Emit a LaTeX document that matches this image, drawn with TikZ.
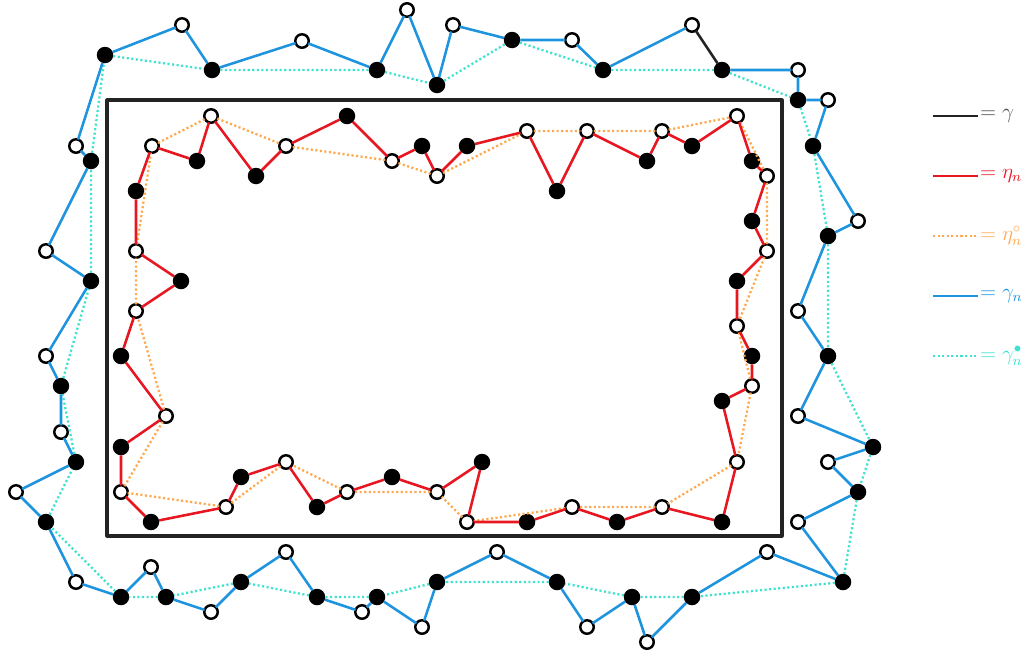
\documentclass[tikz,border=0pt]{standalone}
\usepackage{amsmath}
\definecolor{curveblack}{RGB}{35,35,35}
\definecolor{etared}{RGB}{232,22,32}
\definecolor{etaorange}{RGB}{255,168,78}
\definecolor{gammablue}{RGB}{30,148,222}
\definecolor{gammateal}{RGB}{62,226,206}

\tikzset{
    wdot/.style={circle,draw=black,fill=white,line width=1.4pt,minimum size=0.27cm,inner sep=0pt,outer sep=0pt},
    bdot/.style={circle,fill=black,minimum size=0.33cm,inner sep=0pt,outer sep=0pt},
    gammaline/.style={gammablue,line width=1.45pt},
    etaline/.style={etared,line width=1.45pt},
    gammadots/.style={gammateal,line width=1.3pt,dash pattern=on 1.2pt off 1.4pt},
    etadots/.style={etaorange,line width=1.3pt,dash pattern=on 1.2pt off 1.4pt},
    keytext/.style={anchor=west,inner sep=1pt,font=\large}
}

\begin{document}
\begin{tikzpicture}[x=0.02cm,y=-0.02cm,line cap=butt,line join=round]
        \useasboundingbox (0,0) rectangle (1034,656);

        \draw[curveblack,line width=1.8pt] (107,100) rectangle (782,536);

        % outer walk
        \node[bdot] (o1) at (105,55) {};
        \node[wdot] (o2) at (182,25) {};
        \node[bdot] (o3) at (212,70) {};
        \node[wdot] (o4) at (302,41) {};
        \node[bdot] (o5) at (377,70) {};
        \node[wdot] (o6) at (407,10) {};
        \node[bdot] (o7) at (437,85) {};
        \node[wdot] (o8) at (453,25) {};
        \node[bdot] (o9) at (512,40) {};
        \node[wdot] (o10) at (572,40) {};
        \node[bdot] (o11) at (603,70) {};
        \node[wdot] (o12) at (692,25) {};
        \node[bdot] (o13) at (722,70) {};
        \node[wdot] (o14) at (798,70) {};
        \node[bdot] (o15) at (798,100) {};
        \node[wdot] (o16) at (828,100) {};
        \node[bdot] (o17) at (813,146) {};
        \node[wdot] (o18) at (858,221) {};
        \node[bdot] (o19) at (828,236) {};
        \node[wdot] (o20) at (798,311) {};
        \node[bdot] (o21) at (828,356) {};
        \node[wdot] (o22) at (798,416) {};
        \node[bdot] (o23) at (873,447) {};
        \node[wdot] (o24) at (828,462) {};
        \node[bdot] (o25) at (858,492) {};
        \node[wdot] (o26) at (798,522) {};
        \node[bdot] (o27) at (843,582) {};
        \node[wdot] (o28) at (767,552) {};
        \node[bdot] (o29) at (692,597) {};
        \node[wdot] (o30) at (647,642) {};
        \node[bdot] (o31) at (632,597) {};
        \node[wdot] (o32) at (587,627) {};
        \node[bdot] (o33) at (557,582) {};
        \node[wdot] (o34) at (497,552) {};
        \node[bdot] (o35) at (437,582) {};
        \node[wdot] (o36) at (422,627) {};
        \node[bdot] (o37) at (377,597) {};
        \node[wdot] (o38) at (362,612) {};
        \node[bdot] (o39) at (317,597) {};
        \node[wdot] (o40) at (286,552) {};
        \node[bdot] (o41) at (241,582) {};
        \node[wdot] (o42) at (211,612) {};
        \node[bdot] (o43) at (166,597) {};
        \node[wdot] (o44) at (151,567) {};
        \node[bdot] (o45) at (121,597) {};
        \node[wdot] (o46) at (76,582) {};
        \node[bdot] (o47) at (46,522) {};
        \node[wdot] (o48) at (16,492) {};
        \node[bdot] (o49) at (76,462) {};
        \node[wdot] (o50) at (61,432) {};
        \node[bdot] (o51) at (61,386) {};
        \node[wdot] (o52) at (46,356) {};
        \node[bdot] (o53) at (91,281) {};
        \node[wdot] (o54) at (46,251) {};
        \node[bdot] (o55) at (91,161) {};
        \node[wdot] (o56) at (76,146) {};

        % inner walk
        \node[wdot] (i1) at (152,146) {};
        \node[bdot] (i2) at (197,161) {};
        \node[wdot] (i3) at (211,116) {};
        \node[bdot] (i4) at (256,176) {};
        \node[wdot] (i5) at (286,146) {};
        \node[bdot] (i6) at (347,116) {};
        \node[wdot] (i7) at (392,161) {};
        \node[bdot] (i8) at (422,146) {};
        \node[wdot] (i9) at (437,176) {};
        \node[bdot] (i10) at (467,146) {};
        \node[wdot] (i11) at (527,131) {};
        \node[bdot] (i12) at (557,191) {};
        \node[wdot] (i13) at (587,131) {};
        \node[bdot] (i14) at (647,161) {};
        \node[wdot] (i15) at (662,131) {};
        \node[bdot] (i16) at (692,146) {};
        \node[wdot] (i17) at (737,116) {};
        \node[bdot] (i18) at (752,161) {};
        \node[wdot] (i19) at (767,176) {};
        \node[bdot] (i20) at (752,221) {};
        \node[wdot] (i21) at (767,251) {};
        \node[bdot] (i22) at (737,281) {};
        \node[wdot] (i23) at (737,326) {};
        \node[bdot] (i24) at (752,356) {};
        \node[wdot] (i25) at (752,386) {};
        \node[bdot] (i26) at (722,401) {};
        \node[wdot] (i27) at (737,462) {};
        \node[bdot] (i28) at (722,522) {};
        \node[wdot] (i29) at (662,507) {};
        \node[bdot] (i30) at (617,522) {};
        \node[wdot] (i31) at (572,507) {};
        \node[bdot] (i32) at (527,522) {};
        \node[wdot] (i33) at (467,522) {};
        \node[bdot] (i34) at (482,462) {};
        \node[wdot] (i35) at (437,492) {};
        \node[bdot] (i36) at (392,477) {};
        \node[wdot] (i37) at (347,492) {};
        \node[bdot] (i38) at (317,507) {};
        \node[wdot] (i39) at (286,462) {};
        \node[bdot] (i40) at (241,477) {};
        \node[wdot] (i41) at (226,507) {};
        \node[bdot] (i42) at (151,522) {};
        \node[wdot] (i43) at (121,492) {};
        \node[bdot] (i44) at (121,447) {};
        \node[wdot] (i45) at (166,416) {};
        \node[bdot] (i46) at (121,356) {};
        \node[wdot] (i47) at (136,311) {};
        \node[bdot] (i48) at (181,281) {};
        \node[wdot] (i49) at (136,251) {};
        \node[bdot] (i50) at (136,191) {};

        % dotted skeletons
        \draw[gammadots] (o1) -- (o3) -- (o5) -- (o7) -- (o9) -- (o11) -- (o13)
            -- (o15) -- (o17) -- (o19) -- (o21) -- (o23) -- (o25) -- (o27)
            -- (o29) -- (o31) -- (o33) -- (o35) -- (o37) -- (o39) -- (o41)
            -- (o43) -- (o45) -- (o47) -- (o49) -- (o51) -- (o53) -- (o55) -- (o1);
        \draw[etadots] (i1) -- (i3) -- (i5) -- (i7) -- (i9) -- (i11) -- (i13)
            -- (i15) -- (i17) -- (i19) -- (i21) -- (i23) -- (i25) -- (i27)
            -- (i29) -- (i31) -- (i33) -- (i35) -- (i37) -- (i39) -- (i41)
            -- (i43) -- (i45) -- (i47) -- (i49) -- (i1);

        % walks
        \draw[gammaline] (o13) -- (o14) -- (o15) -- (o16) -- (o17) -- (o18)
            -- (o19) -- (o20) -- (o21) -- (o22) -- (o23) -- (o24) -- (o25)
            -- (o26) -- (o27) -- (o28) -- (o29) -- (o30) -- (o31) -- (o32)
            -- (o33) -- (o34) -- (o35) -- (o36) -- (o37) -- (o38) -- (o39)
            -- (o40) -- (o41) -- (o42) -- (o43) -- (o44) -- (o45) -- (o46)
            -- (o47) -- (o48) -- (o49) -- (o50) -- (o51) -- (o52) -- (o53)
            -- (o54) -- (o55) -- (o56) -- (o1) -- (o2) -- (o3) -- (o4) -- (o5)
            -- (o6) -- (o7) -- (o8) -- (o9) -- (o10) -- (o11) -- (o12);
        \draw[curveblack,line width=1.45pt] (o12) -- (o13);
        \draw[etaline] (i1) -- (i2) -- (i3) -- (i4) -- (i5) -- (i6) -- (i7)
            -- (i8) -- (i9) -- (i10) -- (i11) -- (i12) -- (i13) -- (i14)
            -- (i15) -- (i16) -- (i17) -- (i18) -- (i19) -- (i20) -- (i21)
            -- (i22) -- (i23) -- (i24) -- (i25) -- (i26) -- (i27) -- (i28)
            -- (i29) -- (i30) -- (i31) -- (i32) -- (i33) -- (i34) -- (i35)
            -- (i36) -- (i37) -- (i38) -- (i39) -- (i40) -- (i41) -- (i42)
            -- (i43) -- (i44) -- (i45) -- (i46) -- (i47) -- (i48) -- (i49)
            -- (i50) -- (i1);

        % legend
        \coordinate (k1a) at (933,116); \coordinate (k1b) at (978,116);
        \coordinate (k2a) at (933,176); \coordinate (k2b) at (978,176);
        \coordinate (k3a) at (933,236); \coordinate (k3b) at (978,236);
        \coordinate (k4a) at (933,296); \coordinate (k4b) at (978,296);
        \coordinate (k5a) at (933,356); \coordinate (k5b) at (978,356);

        \draw[curveblack,line width=1.45pt] (k1a) -- (k1b);
        \draw[etaline] (k2a) -- (k2b);
        \draw[etadots] (k3a) -- (k3b);
        \draw[gammaline] (k4a) -- (k4b);
        \draw[gammadots] (k5a) -- (k5b);

        \node[keytext,black!70] (t1) at (k1b) {$=\gamma$};
        \node[keytext,etared] (t2) at (k2b) {$=\eta_n$};
        \node[keytext,etaorange] (t3) at (k3b) {$=\eta_n^{\circ}$};
        \node[keytext,gammablue] (t4) at (k4b) {$=\gamma_n$};
        \node[keytext,gammateal] (t5) at (k5b) {$=\gamma_n^{\bullet}$};
    \end{tikzpicture}
\end{document}
